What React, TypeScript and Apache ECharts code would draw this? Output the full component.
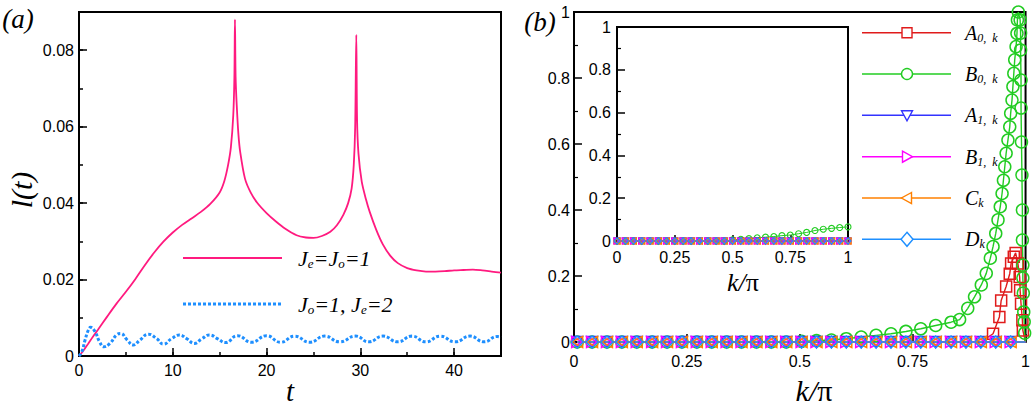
import React, { useEffect, useRef } from "react";
import * as echarts from "echarts";

// ---------- panel (a): l(t) ----------
const tPink = [0, 0.5, 1, 1.5, 2, 3, 4, 5, 6, 7, 8, 9, 10, 11, 12, 13, 14, 15, 15.5, 15.9, 16.2, 16.45, 16.57, 16.63, 16.7, 16.82, 17.0, 17.2, 17.7, 18.3, 19.0, 20.0, 21.0, 22.0, 23.2, 24.2, 25.0, 25.9, 26.8, 27.5, 28.2, 28.7, 29.07, 29.3, 29.45, 29.57, 29.65, 29.8, 30.15, 30.6, 31.0, 31.7, 32.4, 33.2, 34.0, 35.0, 36.0, 37.0, 38.0, 39.0, 40.0, 41.0, 42.0, 43.0, 44.0, 45.0];
const lPink = [0, 0.0015, 0.0033, 0.0051, 0.0068, 0.0103, 0.0137, 0.0168, 0.0201, 0.0237, 0.027, 0.0299, 0.0323, 0.0343, 0.036, 0.0377, 0.0398, 0.0428, 0.0458, 0.05, 0.0547, 0.063, 0.073, 0.088, 0.073, 0.0656, 0.058, 0.0532, 0.0464, 0.0428, 0.0401, 0.0374, 0.0352, 0.0333, 0.0316, 0.031, 0.0309, 0.0314, 0.0325, 0.0342, 0.037, 0.04, 0.0438, 0.05, 0.06, 0.084, 0.062, 0.053, 0.0456, 0.041, 0.0377, 0.033, 0.0292, 0.0262, 0.0243, 0.023, 0.0224, 0.0221, 0.0221, 0.0222, 0.0224, 0.0225, 0.0226, 0.0224, 0.0221, 0.0218];

const tBlue = [0, 0.3, 0.65, 1.0, 1.25, 1.7, 2.2, 2.65, 3.3, 4.0, 4.45, 5.1, 5.8, 6.5, 7.4, 8.3, 9.0, 9.9, 10.7, 11.5, 12.3, 13.1, 13.9, 14.8, 15.6, 16.9, 18.4, 20.0, 21.5, 23.0, 24.6, 26.2, 27.8, 29.5, 30.9, 32.4, 34.0, 35.5, 37.0, 38.5, 40.1, 41.7, 43.2, 44.6, 45];
const lBlue = [0, 0.0011, 0.0042, 0.0068, 0.0075, 0.0064, 0.0037, 0.0024, 0.0033, 0.0055, 0.0059, 0.0043, 0.0029, 0.0042, 0.0057, 0.0045, 0.0031, 0.0046, 0.0055, 0.0045, 0.0033, 0.0045, 0.0055, 0.0045, 0.0035, 0.0053, 0.0036, 0.0053, 0.0036, 0.0052, 0.0036, 0.0052, 0.0037, 0.0052, 0.0037, 0.0052, 0.0037, 0.0052, 0.0037, 0.0052, 0.0037, 0.0052, 0.0037, 0.0051, 0.0049];

// ---------- panel (b): main plot ----------
const kMain = [0.007, 0.04, 0.073, 0.106, 0.139, 0.173, 0.206, 0.239, 0.272, 0.305, 0.338, 0.371, 0.404, 0.437, 0.47, 0.504, 0.537, 0.57, 0.603, 0.636, 0.669, 0.702, 0.735, 0.768, 0.801, 0.835, 0.868, 0.901, 0.934, 0.967, 1.0];
const zeroMain = [0, 0, 0, 0, 0, 0, 0, 0, 0, 0, 0, 0, 0, 0, 0, 0, 0, 0, 0, 0, 0, 0, 0, 0, 0, 0, 0, 0, 0, 0, 0];

const a0K = [0.007, 0.04, 0.073, 0.106, 0.139, 0.173, 0.206, 0.239, 0.272, 0.305, 0.338, 0.371, 0.404, 0.437, 0.47, 0.504, 0.537, 0.57, 0.603, 0.636, 0.669, 0.702, 0.735, 0.768, 0.801, 0.835, 0.868, 0.901, 0.928, 0.942, 0.946, 0.957, 0.965, 0.968, 0.974, 0.978, 0.983, 0.987, 0.988, 0.99, 0.993, 0.994, 1.0];
const a0V = [0, 0, 0, 0, 0, 0, 0, 0, 0, 0, 0, 0, 0, 0, 0, 0, 0, 0, 0, 0, 0, 0, 0, 0, 0, 0, 0, 0, 0.025, 0.076, 0.126, 0.168, 0.207, 0.238, 0.258, 0.27, 0.238, 0.197, 0.157, 0.116, 0.066, 0.035, 0];

const b0K = [0.007, 0.04, 0.073, 0.106, 0.139, 0.173, 0.206, 0.239, 0.272, 0.305, 0.338, 0.371, 0.404, 0.437, 0.47, 0.504, 0.537, 0.57, 0.603, 0.636, 0.669, 0.702, 0.735, 0.768, 0.801, 0.835,
  0.854, 0.872, 0.887, 0.902, 0.913, 0.922, 0.928, 0.934, 0.939, 0.944, 0.948, 0.951, 0.954, 0.957, 0.961, 0.965, 0.967, 0.97, 0.972, 0.974, 0.976, 0.979, 0.981, 0.982, 0.984,
  0.988, 0.989, 0.989, 0.99, 0.99, 0.991, 0.992, 0.993, 0.993, 0.994, 0.994, 0.995, 0.996, 0.997, 0.998, 1.0];
const b0V = [0, 0, 0, 0, 0, 0, 0, 0, 0, 0, 0, 0, 0, 0, 0, 0.002, 0.004, 0.006, 0.01, 0.015, 0.02, 0.025, 0.032, 0.04, 0.05, 0.06,
  0.068, 0.102, 0.137, 0.173, 0.208, 0.254, 0.289, 0.329, 0.37, 0.41, 0.45, 0.49, 0.531, 0.572, 0.612, 0.652, 0.693, 0.733, 0.774, 0.814, 0.855, 0.895, 0.935, 0.976, 1.0,
  0.976, 0.936, 0.885, 0.794, 0.709, 0.606, 0.506, 0.4, 0.309, 0.233, 0.194, 0.148, 0.091, 0.061, 0.027, 0];

// ---------- panel (b): inset ----------
const kInset = [0, 0.036, 0.071, 0.107, 0.143, 0.179, 0.214, 0.25, 0.286, 0.321, 0.357, 0.393, 0.429, 0.464, 0.5, 0.536, 0.571, 0.607, 0.643, 0.679, 0.714, 0.75, 0.786, 0.821, 0.857, 0.893, 0.929, 0.964, 1.0];
const zeroInset = [0, 0, 0, 0, 0, 0, 0, 0, 0, 0, 0, 0, 0, 0, 0, 0, 0, 0, 0, 0, 0, 0, 0, 0, 0, 0, 0, 0, 0];
const b0Inset = [0, 0, 0, 0, 0, 0, 0, 0, 0, 0, 0, 0, 0, 0, 0.005, 0.008, 0.011, 0.015, 0.018, 0.021, 0.025, 0.028, 0.034, 0.04, 0.049, 0.055, 0.059, 0.063, 0.066];

const SANS = "Liberation Sans";
const SERIF = "Liberation Serif";
const PINK = "#ff1a7f";
const DOT_BLUE = "#1e8fff";

type Kind = { name: string; sub: string; color: string; symbol: string; rotate: number; size: number };
const kinds: Kind[] = [
  { name: "A", sub: "0,  k", color: "#e01b1b", symbol: "rect", rotate: 0, size: 11 },
  { name: "B", sub: "0,  k", color: "#22cc22", symbol: "circle", rotate: 0, size: 12 },
  { name: "A", sub: "1,  k", color: "#3333ff", symbol: "triangle", rotate: 180, size: 11 },
  { name: "B", sub: "1,  k", color: "#ff00ff", symbol: "triangle", rotate: -90, size: 11 },
  { name: "C", sub: "k", color: "#ff8000", symbol: "triangle", rotate: 90, size: 11 },
  { name: "D", sub: "k", color: "#1e8fff", symbol: "diamond", rotate: 0, size: 12 },
];

function pairs(xs: number[], ys: number[]) {
  return xs.map((x, i) => [x, ys[i]]);
}
// the closing point at k = 1 carries the line only
function openEnd(xs: number[], ys: number[]) {
  return xs.map((x, i) => (i === xs.length - 1 ? { value: [x, ys[i]], symbol: "none" } : [x, ys[i]]));
}
// squares only where the A(0,k) curve leaves the axis
function peakOnly(xs: number[], ys: number[]) {
  return xs.map((x, i) => (ys[i] === 0 ? { value: [x, ys[i]], symbol: "none" } : [x, ys[i]]));
}

function valueAxis(grid: number, o: any) {
  return {
    type: "value",
    gridIndex: grid,
    axisLine: { show: o.line !== false, onZero: false, lineStyle: { color: "#000", width: 2 } },
    axisTick: { show: true, inside: true, length: o.tick ?? 8, lineStyle: { color: "#000", width: 1.5 } },
    minorTick: { show: !!o.minor, splitNumber: 2, length: 4, lineStyle: { color: "#000", width: 1.2 } },
    axisLabel: {
      show: o.label !== false,
      color: "#000",
      fontSize: 16,
      fontFamily: SANS,
      margin: o.margin ?? 6,
      showMaxLabel: o.showMax ?? true,
    },
    splitLine: { show: false },
    min: o.min,
    max: o.max,
    interval: o.interval,
    position: o.position,
  };
}

function buildOption() {
  const grids = [
    { left: 79, top: 12, width: 422, height: 344, show: true, borderColor: "#000", borderWidth: 2, backgroundColor: "#fff" },
    { left: 574, top: 12, width: 452, height: 330, show: true, borderColor: "#000", borderWidth: 2, backgroundColor: "#fff" },
    { left: 617, top: 27, width: 231, height: 214, show: true, borderColor: "#000", borderWidth: 2, backgroundColor: "#fff" },
  ];

  const xAxis = [
    valueAxis(0, { min: 0, max: 45, interval: 10, margin: 6, showMax: false, position: "bottom" }),
    valueAxis(0, { min: 0, max: 45, interval: 5, label: false, line: false, tick: 4, position: "bottom" }),
    valueAxis(1, { min: 0, max: 1, interval: 0.25, margin: 11, position: "bottom" }),
    valueAxis(2, { min: 0, max: 1, interval: 0.25, margin: 8, tick: 6, position: "bottom" }),
  ];
  const yAxis = [
    valueAxis(0, { min: 0, max: 0.09, interval: 0.02, margin: 5, showMax: false, position: "left" }),
    valueAxis(0, { min: 0, max: 0.09, interval: 0.01, label: false, line: false, tick: 4, position: "left" }),
    valueAxis(1, { min: 0, max: 1, interval: 0.2, margin: 4, minor: true, position: "left" }),
    valueAxis(2, { min: 0, max: 1, interval: 0.2, margin: 6, minor: true, position: "left" }),
  ];

  const series: any[] = [
    {
      type: "line", xAxisIndex: 0, yAxisIndex: 0, showSymbol: false, smooth: 0.3,
      lineStyle: { color: PINK, width: 1.8 }, data: pairs(tPink, lPink),
    },
    {
      type: "line", xAxisIndex: 0, yAxisIndex: 0, showSymbol: false, smooth: true,
      lineStyle: { color: DOT_BLUE, width: 3, type: [3, 2] }, data: pairs(tBlue, lBlue),
    },
  ];

  const mainData = [
    peakOnly(a0K, a0V),
    openEnd(b0K, b0V),
    openEnd(kMain, zeroMain),
    openEnd(kMain, zeroMain),
    openEnd(kMain, zeroMain),
    openEnd(kMain, zeroMain),
  ];
  const insetData = [
    pairs(kInset, zeroInset),
    pairs(kInset, b0Inset),
    pairs(kInset, zeroInset),
    pairs(kInset, zeroInset),
    pairs(kInset, zeroInset),
    pairs(kInset, zeroInset),
  ];

  kinds.forEach((kd, i) => {
    series.push({
      type: "line", xAxisIndex: 2, yAxisIndex: 2, clip: false,
      symbol: kd.symbol, symbolSize: kd.size, symbolRotate: kd.rotate, showSymbol: true, showAllSymbol: true,
      itemStyle: { color: "rgba(0,0,0,0)", borderColor: kd.color, borderWidth: 1.5 },
      lineStyle: { color: kd.color, width: 1.4 },
      data: mainData[i],
    });
  });
  kinds.forEach((kd, i) => {
    series.push({
      type: "line", xAxisIndex: 3, yAxisIndex: 3, clip: false,
      symbol: kd.symbol, symbolSize: 6, symbolRotate: kd.rotate, showSymbol: true, showAllSymbol: true,
      itemStyle: { color: "rgba(0,0,0,0)", borderColor: kd.color, borderWidth: 1.1 },
      lineStyle: { color: kd.color, width: 1 },
      data: insetData[i],
    });
  });

  const italic = { fontFamily: SERIF, fontStyle: "italic", fill: "#000" };
  const richLeft = {
    m: { ...italic, fontSize: 22, lineHeight: 24 },
    s: { ...italic, fontSize: 13, lineHeight: 10, verticalAlign: "bottom" },
  };
  const richRight = {
    m: { ...italic, fontSize: 20, lineHeight: 22 },
    s: { ...italic, fontSize: 12, lineHeight: 8, verticalAlign: "bottom" },
  };
  const richK = {
    k: { ...italic, fontSize: 30 },
    p: { fontFamily: SERIF, fontSize: 30, fill: "#000" },
  };
  const richKs = {
    k: { ...italic, fontSize: 26 },
    p: { fontFamily: SERIF, fontSize: 26, fill: "#000" },
  };

  const graphic: any[] = [
    { type: "text", x: 18, y: 19, style: { text: "(a)", ...italic, fontSize: 27, align: "center", verticalAlign: "middle" } },
    { type: "text", x: 540, y: 22, style: { text: "(b)", ...italic, fontSize: 27, align: "center", verticalAlign: "middle" } },
    { type: "text", x: 21, y: 190, rotation: Math.PI / 2, style: { text: "l(t)", ...italic, fontSize: 30, align: "center", verticalAlign: "middle" } },
    { type: "text", x: 290, y: 391, style: { text: "t", ...italic, fontSize: 29, align: "center", verticalAlign: "middle" } },
    { type: "text", x: 814, y: 390, style: { text: "{k|k}{k|/}{p|π}", rich: richK, align: "center", verticalAlign: "middle" } },
    { type: "text", x: 743, y: 282, style: { text: "{k|k}{k|/}{p|π}", rich: richKs, align: "center", verticalAlign: "middle" } },
    // legend of panel (a)
    { type: "line", shape: { x1: 183, y1: 258, x2: 282, y2: 258 }, style: { stroke: PINK, lineWidth: 1.8 } },
    { type: "text", x: 298, y: 258, style: { text: "{m|J}{s|e}{m|=J}{s|o}{m|=1}", rich: richLeft, align: "left", verticalAlign: "middle" } },
    { type: "line", shape: { x1: 183, y1: 304, x2: 282, y2: 304 }, style: { stroke: DOT_BLUE, lineWidth: 3, lineDash: [3, 2] } },
    { type: "text", x: 298, y: 304, style: { text: "{m|J}{s|o}{m|=1, J}{s|e}{m|=2}", rich: richLeft, align: "left", verticalAlign: "middle" } },
  ];

  // legend of panel (b)
  const rowY = [32.7, 74, 115.3, 156.7, 198, 239.3];
  const mx = 907;
  kinds.forEach((kd, i) => {
    const y = rowY[i];
    graphic.push({ type: "line", shape: { x1: 862, y1: y, x2: 951, y2: y }, style: { stroke: kd.color, lineWidth: 1.4 } });
    const st = { fill: "#fff", stroke: kd.color, lineWidth: 1.4 };
    if (kd.symbol === "rect") {
      graphic.push({ type: "rect", shape: { x: mx - 5, y: y - 5, width: 10, height: 10 }, style: st });
    } else if (kd.symbol === "circle") {
      graphic.push({ type: "circle", shape: { cx: mx, cy: y, r: 5.5 }, style: st });
    } else if (kd.symbol === "diamond") {
      graphic.push({ type: "polygon", shape: { points: [[mx, y - 7], [mx + 6, y], [mx, y + 7], [mx - 6, y]] }, style: st });
    } else if (kd.rotate === 180) {
      graphic.push({ type: "polygon", shape: { points: [[mx - 5.5, y - 4.5], [mx + 5.5, y - 4.5], [mx, y + 5.5]] }, style: st });
    } else if (kd.rotate === -90) {
      graphic.push({ type: "polygon", shape: { points: [[mx - 4.5, y - 5.5], [mx + 5.5, y], [mx - 4.5, y + 5.5]] }, style: st });
    } else {
      graphic.push({ type: "polygon", shape: { points: [[mx + 4.5, y - 5.5], [mx - 5.5, y], [mx + 4.5, y + 5.5]] }, style: st });
    }
    graphic.push({
      type: "text", x: 965, y,
      style: { text: `{m|${kd.name}}{s|${kd.sub}}`, rich: richRight, align: "left", verticalAlign: "middle" },
    });
  });

  return {
    animation: false,
    backgroundColor: "#fff",
    grid: grids,
    xAxis,
    yAxis,
    series,
    graphic,
  };
}

export default function App() {
  const ref = useRef<HTMLDivElement>(null);
  useEffect(() => {
    if (!ref.current) return;
    const chart = echarts.init(ref.current, null, { renderer: "svg" });
    chart.setOption(buildOption() as any);
    return () => chart.dispose();
  }, []);
  return (
    <div
      ref={ref}
      style={{ position: "fixed", left: 0, top: 0, width: 1033, height: 407, background: "#fff" }}
    />
  );
}
